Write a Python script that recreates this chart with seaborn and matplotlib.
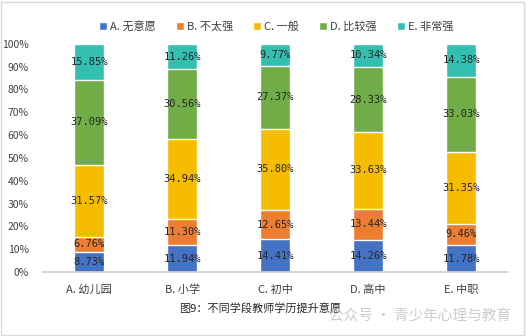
import numpy as np
import pandas as pd
import matplotlib
matplotlib.use("Agg")
import matplotlib.pyplot as plt
import seaborn as sns

categories = ["A. 幼儿园", "B. 小学", "C. 初中", "D. 高中", "E. 中职"]
series_names = ["A. 无意愿", "B. 不太强", "C. 一般", "D. 比较强", "E. 非常强"]
s_a = [8.73, 11.94, 14.41, 14.26, 11.78]
s_b = [6.76, 11.30, 12.65, 13.44, 9.46]
s_c = [31.57, 34.94, 35.80, 33.63, 31.35]
s_d = [37.09, 30.56, 27.37, 28.33, 33.03]
s_e = [15.85, 11.26, 9.77, 10.34, 14.38]
colors = ["#4472C4", "#ED7D31", "#F5BC00", "#70AD47", "#33BFB0"]

sns.set_theme(style="white")
plt.rcParams['font.family'] = ['Noto Sans CJK SC', 'DejaVu Sans']

series = [s_a, s_b, s_c, s_d, s_e]
vals = np.array(series)
totals = vals.sum(axis=0)
pct = vals / totals * 100
cum = np.cumsum(pct, axis=0)

fig = plt.figure(figsize=(5.26, 3.36), dpi=100)
ax = fig.add_axes([0.081, 0.19, 0.884, 0.68])

for i in range(len(series) - 1, -1, -1):
    df = pd.DataFrame({"cat": categories, "top": cum[i]})
    sns.barplot(data=df, x="cat", y="top", color=colors[i], width=0.32,
                saturation=1, ax=ax, label=series_names[i])

for i, s in enumerate(series):
    for j, v in enumerate(s):
        y = cum[i][j] - pct[i][j] / 2
        ax.text(j, y, f"{v:.2f}%", ha="center", va="center", fontsize=7.5,
                color="#262626", family=['DejaVu Sans Mono', 'DejaVu Sans'])

ax.set_ylim(0, 100)
ax.set_xlim(-0.5, 4.5)
ax.set_yticks(np.arange(0, 101, 10))
ax.set_yticklabels([f"{t}%" for t in range(0, 101, 10)], fontsize=7.5, color="#404040")
ax.tick_params(axis="x", labelsize=8, colors="#404040", pad=3)
ax.tick_params(axis="y", pad=4)
ax.set_xlabel("")
ax.set_ylabel("")
for sp in ["top", "right", "left"]:
    ax.spines[sp].set_visible(False)
ax.spines["bottom"].set_color("#D0D0D0")

handles, labels = ax.get_legend_handles_labels()
order = [labels.index(n) for n in series_names]
ax.legend([handles[k] for k in order], [labels[k] for k in order],
          loc="center", bbox_to_anchor=(0.525, 0.922), bbox_transform=fig.transFigure,
          ncol=5, frameon=False, fontsize=8, handlelength=0.7, handleheight=0.7,
          handletextpad=0.3, columnspacing=1.8, labelcolor="#404040")

fig.text(0.495, 0.083, "图9：不同学段教师学历提升意愿", ha="center", va="center",
         fontsize=8, color="#262626")
fig.text(0.625, 0.062, "公众号 · 青少年心理与教育", ha="left", va="center",
         fontsize=10.5, color="#C8C8C8", alpha=0.9)

fig.patches.append(plt.Rectangle((0.002, 0.004), 0.994, 0.99, transform=fig.transFigure,
                                 fill=False, edgecolor="#D9D9D9", linewidth=1))

fig.savefig("out.png", dpi=100)
